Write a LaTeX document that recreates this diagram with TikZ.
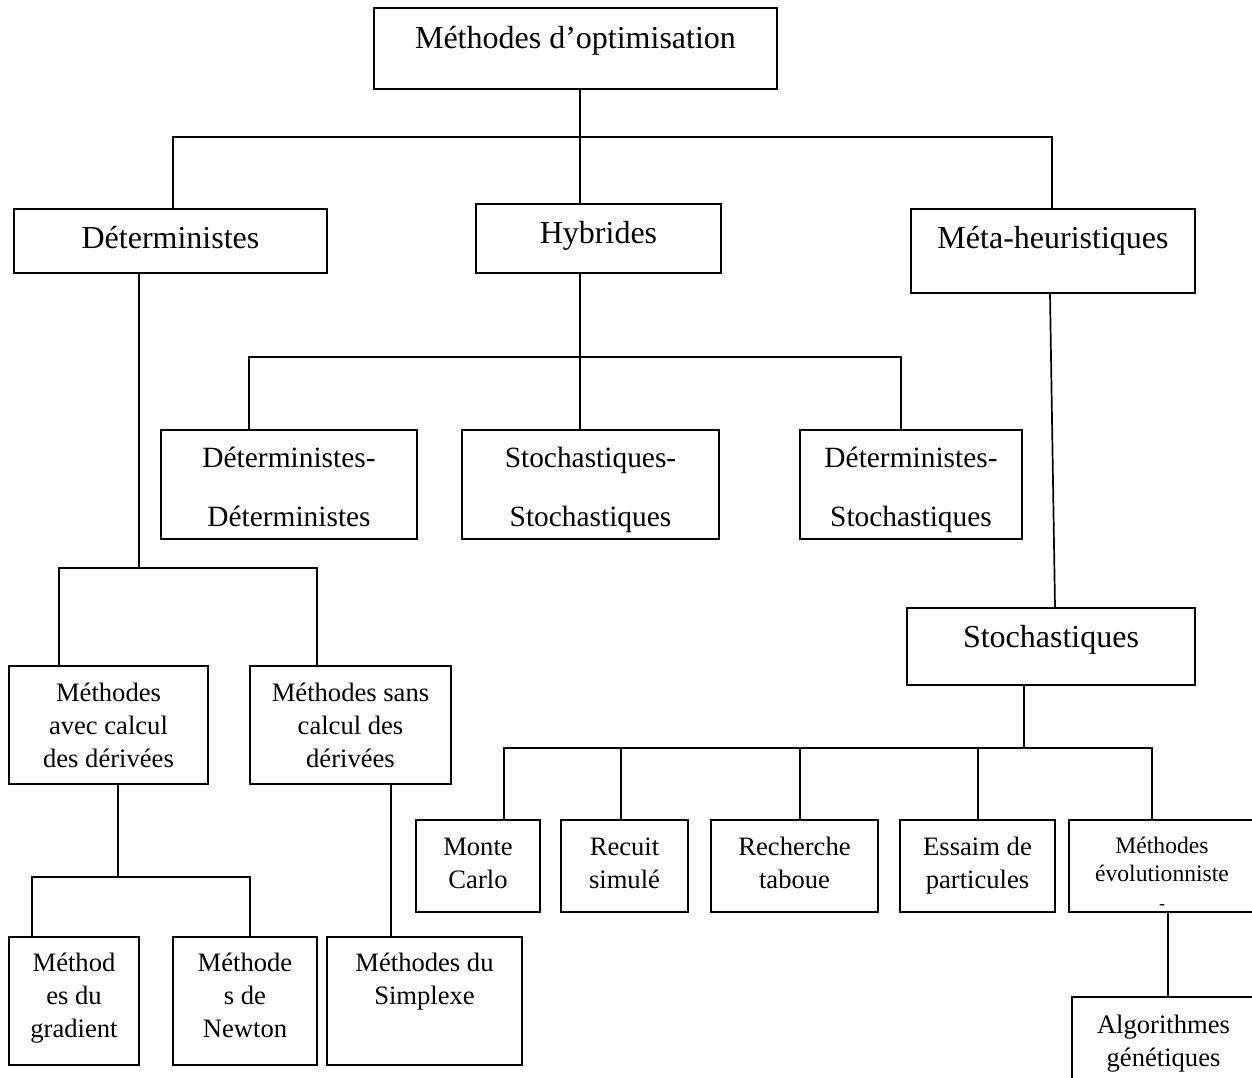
\documentclass[tikz,border=0pt]{standalone}
\usepackage{fontspec}
\setmainfont{Liberation Serif}
\tikzset{
  boite/.style={draw, line width=0.85pt, inner sep=0pt},
  lien/.style={line width=0.85pt},
  niv1/.style={font=\fontsize{16}{19}\selectfont},
  niv2/.style={font=\fontsize{14.7}{29.5}\selectfont},
  niv3/.style={font=\fontsize{13.3}{16.5}\selectfont},
  niv4/.style={font=\fontsize{11.8}{14}\selectfont}
}
% \boite{style}(nom)(x1,y1)(x2,y2){ligne de base}{texte}
\def\boite#1(#2)(#3,#4)(#5,#6)#7#8{%
  \pgfmathsetlengthmacro\largeur{(#5-#3)*0.5}%
  \pgfmathsetlengthmacro\hauteur{(#6-#4)*0.5}%
  \pgfmathsetlengthmacro\decal{((#4+#6)/2-#7)*0.5}%
  \node[boite, #1, minimum width=\largeur, minimum height=\hauteur] (#2) at ({(#3+#5)/2},{(#4+#6)/2})
    {\raisebox{\decal}[0pt][0pt]{\begin{tabular}[t]{@{}c@{}}#8\end{tabular}}};}

\begin{document}
\begin{tikzpicture}[x=0.5pt,y=-0.5pt]
			%%%%% START %%%%%
			\useasboundingbox (0,0) rectangle (1252,1077);
			\fill[white] (0,0) rectangle (1252,1077);
			\clip (0,0) rectangle (1252,1077);
			
			\boite{niv1}(optim)(374,8)(777,89){48}{Méthodes d’optimisation}
			\boite{niv1}(det)(14,209)(327,273){248}{Déterministes}
			\boite{niv1}(hyb)(476,204)(721,273){243}{Hybrides}
			\boite{niv1}(meta)(911,209)(1195,293){248}{Méta-heuristiques}
			
			\boite{niv2}(dd)(161,430)(417,539){467}{Déterministes-\\Déterministes}
			\boite{niv2}(ss)(462,430)(719,539){467}{Stochastiques-\\Stochastiques}
			\boite{niv2}(ds)(800,430)(1022,539){467}{Déterministes-\\Stochastiques}
			
			\boite{niv1}(stoch)(907,608)(1195,685){647}{Stochastiques}
			
			\boite{niv3}(avec)(9,666)(208,784){701}{Méthodes\\avec calcul\\des dérivées}
			\boite{niv3}(sans)(250,666)(451,784){701}{Méthodes sans\\calcul des\\dérivées}
			\boite{niv3}(grad)(9,937)(139,1065){971}{Méthod\\es du\\gradient}
			\boite{niv3}(newton)(173,937)(317,1065){971}{Méthode\\s de\\Newton}
			\boite{niv3}(simplexe)(327,937)(522,1065){971}{Méthodes du\\Simplexe}
			
			\boite{niv3}(monte)(416,820)(540,912){855}{Monte\\Carlo}
			\boite{niv3}(recuit)(561,820)(688,912){855}{Recuit\\simulé}
			\boite{niv3}(recherche)(711,820)(878,912){855}{Recherche\\taboue}
			\boite{niv3}(essaim)(900,820)(1055,912){855}{Essaim de\\particules}
			\boite{niv4}(evol)(1069,820)(1255,912){853}{Méthodes\\évolutionniste\\{\fontsize{9}{9}\selectfont -}}
			\boite{niv3}(algo)(1072,997)(1255,1095){1033}{Algorithmes\\génétiques}
			
			% jonctions
			\coordinate (j0) at (580,137);
			\coordinate (j1) at (580,357);
			\coordinate (j2) at (139,568);
			\coordinate (j3) at (118,877);
			\coordinate (j4) at (1024,748);
			
			\draw[lien] (optim.south -| j0) -- (hyb.north -| j0);
			\draw[lien] (173,0 |- det.north) |- (j0) -| (1052,0 |- meta.north);
			
			\draw[lien] (hyb.south -| j1) -- (ss.north -| j1);
			\draw[lien] (249,0 |- dd.north) |- (j1) -| (901,0 |- ds.north);
			
			\draw[lien] (det.south -| j2) -- (j2);
			\draw[lien] (59,0 |- avec.north) |- (j2) -| (317,0 |- sans.north);
			
			\draw[lien] (avec.south -| j3) -- (j3);
			\draw[lien] (32,0 |- grad.north) |- (j3) -| (250,0 |- newton.north);
			\draw[lien] (sans.south -| 391,0) -- (simplexe.north -| 391,0);
			
			\draw[lien] (meta.south -| 1050,0) -- (stoch.north -| 1055,0);
			\draw[lien] (stoch.south -| j4) -- (j4);
			\draw[lien] (504,0 |- monte.north) |- (j4) -| (1152,0 |- evol.north);
			\foreach \x/\n in {621/recuit, 800/recherche, 978/essaim}
				\draw[lien] (\x,0 |- j4) -- (\x,0 |- \n.north);
			\draw[lien] (evol.south -| 1168,0) -- (algo.north -| 1168,0);
			
			%%%%% END %%%%%
\end{tikzpicture}
\end{document}
